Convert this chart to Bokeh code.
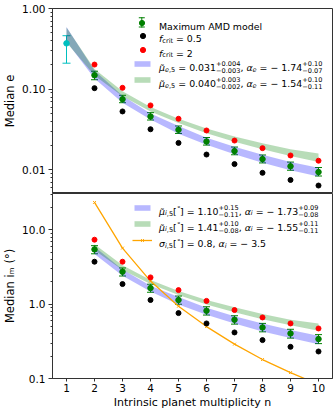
import math
from bokeh.plotting import figure
from bokeh.layouts import column
from bokeh.models import (Range1d, FixedTicker, PrintfTickFormatter, Label, Legend,
                          LegendItem, BoxAnnotation, Whisker, TeeHead, ColumnDataSource)
from bokeh.embed import file_html
from bokeh.resources import INLINE

# ---------------- data ----------------
n_all = [1, 2, 3, 4, 5, 6, 7, 8, 9, 10]
n_sys = [2, 3, 4, 5, 6, 7, 8, 9, 10]
x_ticks = [1, 2, 3, 4, 5, 6, 7, 8, 9, 10]
e_ticks = [0.01, 0.1, 1.0]
i_ticks = [0.1, 1.0, 10.0]

# observed point (n = 1)
obs_n = [1]
obs_e = [0.37]
obs_e_lo = [0.21]
obs_e_hi = [0.46]

# median eccentricity
amd_e = [0.149, 0.0752, 0.0459, 0.0314, 0.0225, 0.0171, 0.0136, 0.0111, 0.0094]
amd_e_lo = [0.131, 0.068, 0.0415, 0.0283, 0.0203, 0.0154, 0.0122, 0.0099, 0.0084]
amd_e_hi = [0.167, 0.084, 0.0512, 0.0350, 0.0252, 0.0192, 0.0153, 0.0125, 0.0107]
fcrit05_e = [0.103, 0.053, 0.0319, 0.0216, 0.0155, 0.0118, 0.0092, 0.0075, 0.0064]
fcrit2_e = [0.202, 0.104, 0.063, 0.043, 0.0308, 0.0231, 0.0186, 0.0151, 0.0130]
blue_e_lo = [0.39, 0.136, 0.068, 0.042, 0.028, 0.0205, 0.0156, 0.0123, 0.0099, 0.0083]
blue_e_hi = [0.59, 0.170, 0.083, 0.050, 0.035, 0.0250, 0.0193, 0.0154, 0.0125, 0.0106]
green_e_lo = [0.38, 0.148, 0.082, 0.053, 0.038, 0.0285, 0.0223, 0.0180, 0.0149, 0.0125]
green_e_hi = [0.58, 0.178, 0.094, 0.060, 0.043, 0.0325, 0.0260, 0.0214, 0.0180, 0.0160]

# median mutual inclination (deg)
amd_i = [5.48, 2.74, 1.65, 1.14, 0.817, 0.618, 0.487, 0.404, 0.340]
amd_i_lo = [4.78, 2.40, 1.45, 1.00, 0.715, 0.54, 0.425, 0.35, 0.295]
amd_i_hi = [6.15, 3.08, 1.86, 1.29, 0.925, 0.70, 0.552, 0.46, 0.39]
fcrit05_i = [3.74, 1.87, 1.14, 0.760, 0.551, 0.417, 0.329, 0.267, 0.231]
fcrit2_i = [7.4, 3.74, 2.30, 1.55, 1.11, 0.835, 0.664, 0.551, 0.472]
blue_i_lo = [4.75, 2.42, 1.48, 0.99, 0.72, 0.55, 0.43, 0.35, 0.29]
blue_i_hi = [5.95, 2.93, 1.77, 1.25, 0.90, 0.69, 0.55, 0.45, 0.375]
green_i_lo = [5.35, 2.90, 1.88, 1.33, 0.99, 0.78, 0.63, 0.52, 0.44]
green_i_hi = [6.45, 3.35, 2.12, 1.51, 1.14, 0.91, 0.74, 0.62, 0.55]
sigma_i = [23.5, 5.7, 2.05, 0.94, 0.50, 0.29, 0.18, 0.12, 0.083]

# ---------------- layout constants ----------------
FONT = "DejaVu Sans"
FRAME_LEFT, FRAME_W, FRAME_H = 50.0, 280, 185
X_LO, X_HI = 0.5, 10.5
E_LO, E_HI = 0.0051, 1.0
I_LO, I_HI = 0.1, 31.0
TOP_Y0, BOT_Y0 = 8.0, 193.0          # page y of each frame's top edge

CW = {' ': .318, '.': .318, ',': .318, '=': .838, '+': .838, '\u2212': .838, '-': .361,
      '[': .39, ']': .39, '(': .39, ')': .39, '\u2218': .5, '\u03bc': .636, '\u03b1': .659,
      '\u03c3': .633, 'a': .613, 'b': .635, 'c': .55, 'd': .635, 'e': .615, 'f': .352,
      'g': .635, 'h': .634, 'i': .278, 'l': .278, 'm': .974, 'n': .634, 'o': .612,
      'p': .635, 'r': .411, 's': .521, 't': .392, 'u': .634, 'x': .592, 'y': .592,
      'A': .684, 'D': .77, 'M': .863, 'I': .295}
for d in "0123456789":
    CW[d] = .636


def tw(s):
    return sum(CW.get(c, .6) for c in s if c != '\u0303')


class PageMap:
    """page pixel -> data coordinate, through the panel's own ranges."""
    def __init__(self, y0, ylo, yhi):
        self.y0, self.ylo, self.yhi = y0, ylo, yhi

    def x(self, px):
        return X_LO + (px - FRAME_LEFT) * (X_HI - X_LO) / FRAME_W

    def y(self, py):
        lo, hi = math.log10(self.ylo), math.log10(self.yhi)
        return 10 ** (hi - (py - self.y0) * (hi - lo) / FRAME_H)


def rich(p, m, px, py, pieces, fs):
    small = 0.7 * fs
    items = []
    cur = 0.0
    for kind, txt, it in pieces:
        if kind == 'n':
            items.append((cur, 0.0, fs, txt, it)); cur += tw(txt) * fs
        elif kind == 'b':
            items.append((cur, -0.22 * fs, small, txt, it)); cur += tw(txt) * small
        elif kind == 'p':
            items.append((cur, 0.42 * fs, small, txt, it)); cur += tw(txt) * small
        else:
            sup, sub = txt
            items.append((cur, 0.42 * fs, small, sup, it))
            items.append((cur, -0.30 * fs, small, sub, it))
            cur += max(tw(sup), tw(sub)) * small
    for a, dy, size, txt, it in items:
        lead = len(txt) - len(txt.lstrip(' '))
        a += lead * CW[' '] * size
        txt = txt.strip(' ')
        p.add_layout(Label(x=m.x(px + a), y=m.y(py - dy), x_units="data", y_units="data",
                           text=txt, text_font=FONT, text_font_size=f"{size:.2f}px",
                           text_font_style="italic" if it else "normal",
                           text_align="left", text_baseline="alphabetic", text_color="black"))


def legend_glyph(p, m, renderers, left, top, gw, gh):
    fb = m.y0 + FRAME_H
    leg = Legend(items=[LegendItem(label=" ", renderers=renderers)],
                 location=(left - FRAME_LEFT, fb - (top + gh)), padding=0, margin=0, spacing=0,
                 glyph_width=gw, glyph_height=gh, label_width=0, label_height=gh,
                 label_standoff=0, label_text_font_size="1px",
                 background_fill_alpha=0, border_line_alpha=0)
    p.add_layout(leg)


def box(p, m, l, r, t, b, color):
    p.add_layout(BoxAnnotation(left=m.x(l), right=m.x(r), top=m.y(t), bottom=m.y(b),
                               fill_color=color, fill_alpha=1, line_alpha=0))


def make_fig(yr, show_x, ylabel, top_border):
    p = figure(frame_width=FRAME_W, frame_height=FRAME_H, x_range=Range1d(X_LO, X_HI), y_range=yr,
               y_axis_type="log", output_backend="svg", toolbar_location=None,
               x_axis_location="below" if show_x else None,
               min_border_left=int(FRAME_LEFT), min_border_right=5, min_border_top=top_border,
               min_border_bottom=33 if show_x else 0)
    p.grid.visible = False
    p.outline_line_color = "#333333"
    p.outline_line_alpha = 1
    p.background_fill_color = "white"
    p.border_fill_color = "white"
    ax = p.yaxis[0]
    ax.axis_line_color = "#333333"
    ax.major_tick_line_color = "#333333"
    ax.minor_tick_line_color = "#333333"
    ax.major_tick_out = 4
    ax.major_tick_in = 0
    ax.minor_tick_out = 2
    ax.minor_tick_in = 0
    ax.major_label_standoff = 3
    ax.major_label_text_font = FONT
    ax.major_label_text_font_size = "10.5px"
    ax.major_label_text_color = "black"
    ax.axis_label = ylabel
    ax.axis_label_text_font = FONT
    ax.axis_label_text_font_size = "11.5px"
    ax.axis_label_text_font_style = "normal"
    ax.axis_label_text_color = "black"
    ax.axis_label_standoff = 2
    if show_x:
        xa = p.xaxis[0]
        xa.ticker = FixedTicker(ticks=x_ticks, minor_ticks=[])
        xa.axis_line_color = "#333333"
        xa.major_tick_line_color = "#333333"
        xa.major_tick_out = 3
        xa.major_tick_in = 0
        xa.minor_tick_out = 0
        xa.minor_tick_in = 0
        xa.major_label_standoff = 2
        xa.major_label_text_font = FONT
        xa.major_label_text_font_size = "10.5px"
        xa.major_label_text_color = "black"
        xa.axis_label = "Intrinsic planet multiplicity n"
        xa.axis_label_text_font = FONT
        xa.axis_label_text_font_size = "11px"
        xa.axis_label_text_font_style = "normal"
        xa.axis_label_text_color = "black"
        xa.axis_label_standoff = 1
    return p


def minor(lo_exp, hi_exp):
    return [m * 10.0 ** k for k in range(lo_exp, hi_exp) for m in range(2, 10)]


# ---------------- top panel ----------------
top = make_fig(Range1d(E_LO, E_HI), False, "Median e", int(TOP_Y0))
MT = PageMap(TOP_Y0, E_LO, E_HI)
top.yaxis.ticker = FixedTicker(ticks=e_ticks, minor_ticks=minor(-3, 0))
top.yaxis.formatter = PrintfTickFormatter(format="%.2f")

b_e = top.varea(x=n_all, y1=blue_e_lo, y2=blue_e_hi, fill_color="blue", fill_alpha=0.28)
g_e = top.varea(x=n_all, y1=green_e_lo, y2=green_e_hi, fill_color="green", fill_alpha=0.28)
k_e = top.scatter(n_sys, fcrit05_e, size=5, color="black")
r_e = top.scatter(n_sys, fcrit2_e, size=5, color="red")
top.add_layout(Whisker(source=ColumnDataSource(dict(x=n_sys, lo=amd_e_lo, hi=amd_e_hi)),
                       base="x", lower="lo", upper="hi", line_color="green", line_width=1,
                       upper_head=TeeHead(size=7, line_color="green", line_width=1),
                       lower_head=TeeHead(size=7, line_color="green", line_width=1)))
a_e = top.scatter(n_sys, amd_e, size=5.5, color="green")
top.add_layout(Whisker(source=ColumnDataSource(dict(x=obs_n, lo=obs_e_lo, hi=obs_e_hi)),
                       base="x", lower="lo", upper="hi", line_color="#00bfbf", line_width=1,
                       upper_head=TeeHead(size=8, line_color="#00bfbf", line_width=1),
                       lower_head=TeeHead(size=8, line_color="#00bfbf", line_width=1)))
top.scatter(obs_n, obs_e, size=5.5, color="#00bfbf")

# legend (top)
box(top, MT, 138.8, 139.8, 16.7, 27.0, "green")
box(top, MT, 136.3, 142.3, 16.7, 17.7, "green")
box(top, MT, 136.3, 142.3, 26.0, 27.0, "green")
legend_glyph(top, MT, [a_e], 133, 16, 13, 13)
legend_glyph(top, MT, [k_e], 134, 28.5, 13, 13)
legend_glyph(top, MT, [r_e], 134, 43, 13, 13)
legend_glyph(top, MT, [b_e], 130, 60, 20, 7)
legend_glyph(top, MT, [g_e], 130, 76, 20, 7)

LX = 156.5
LFS = 9.4
rich(top, MT, LX, 26.0, [('n', 'Maximum AMD model', False)], LFS)
rich(top, MT, LX, 38.4, [('n', 'f', True), ('b', 'crit', False), ('n', ' = 0.5', False)], LFS)
rich(top, MT, LX, 52.6, [('n', 'f', True), ('b', 'crit', False), ('n', ' = 2', False)], LFS)
rich(top, MT, LX, 67.3, [('n', '\u03bc\u0303', True), ('b', 'e', True), ('b', ',5', False),
                         ('n', ' = 0.031', False), ('s', ('+0.004', '\u22120.003'), False),
                         ('n', ', ', False), ('n', '\u03b1', True), ('b', 'e', True),
                         ('n', ' = \u2212 1.74', False), ('s', ('+0.10', '\u22120.07'), False)], LFS)
rich(top, MT, LX, 83.3, [('n', '\u03bc\u0303', True), ('b', 'e', True), ('b', ',5', False),
                         ('n', ' = 0.040', False), ('s', ('+0.003', '\u22120.002'), False),
                         ('n', ', ', False), ('n', '\u03b1', True), ('b', 'e', True),
                         ('n', ' = \u2212 1.54', False), ('s', ('+0.10', '\u22120.11'), False)], LFS)

# ---------------- bottom panel ----------------
bot = make_fig(Range1d(I_LO, I_HI), True, "Median i\u2098 (\u00b0)", 0)
MB = PageMap(BOT_Y0, I_LO, I_HI)
bot.yaxis.ticker = FixedTicker(ticks=i_ticks, minor_ticks=minor(-1, 2))
bot.yaxis.formatter = PrintfTickFormatter(format="%.1f")

b_i = bot.varea(x=n_sys, y1=blue_i_lo, y2=blue_i_hi, fill_color="blue", fill_alpha=0.28)
g_i = bot.varea(x=n_sys, y1=green_i_lo, y2=green_i_hi, fill_color="green", fill_alpha=0.28)
o_l = bot.line(n_sys, sigma_i, line_color="#ffa500", line_width=1.3)
o_m = bot.scatter(n_sys, sigma_i, marker="x", size=4, line_color="#ffa500", line_width=1)
bot.scatter(n_sys, fcrit05_i, size=5, color="black")
bot.scatter(n_sys, fcrit2_i, size=5, color="red")
bot.add_layout(Whisker(source=ColumnDataSource(dict(x=n_sys, lo=amd_i_lo, hi=amd_i_hi)),
                       base="x", lower="lo", upper="hi", line_color="green", line_width=1,
                       upper_head=TeeHead(size=7, line_color="green", line_width=1),
                       lower_head=TeeHead(size=7, line_color="green", line_width=1)))
bot.scatter(n_sys, amd_i, size=5.5, color="green")

legend_glyph(bot, MB, [b_i], 130, 204, 20, 7)
legend_glyph(bot, MB, [g_i], 130, 220, 20, 7)
legend_glyph(bot, MB, [o_l, o_m], 130, 235, 20, 10)

rich(bot, MB, LX, 210.8, [('n', '\u03bc\u0303', True), ('b', 'i', True), ('b', ',5', False),
                          ('n', '[', False), ('p', '\u2218', False), ('n', ']', False),
                          ('n', ' = 1.10', False), ('s', ('+0.15', '\u22120.11'), False),
                          ('n', ', ', False), ('n', '\u03b1', True), ('b', 'i', True),
                          ('n', ' = \u2212 1.73', False), ('s', ('+0.09', '\u22120.08'), False)], LFS)
rich(bot, MB, LX, 226.8, [('n', '\u03bc\u0303', True), ('b', 'i', True), ('b', ',5', False),
                          ('n', '[', False), ('p', '\u2218', False), ('n', ']', False),
                          ('n', ' = 1.41', False), ('s', ('+0.10', '\u22120.08'), False),
                          ('n', ', ', False), ('n', '\u03b1', True), ('b', 'i', True),
                          ('n', ' = \u2212 1.55', False), ('s', ('+0.11', '\u22120.11'), False)], LFS)
rich(bot, MB, LX, 243.3, [('n', '\u03c3', True), ('b', 'i', True), ('b', ',5', False),
                          ('n', '[', False), ('p', '\u2218', False), ('n', ']', False),
                          ('n', ' = 0.8, ', False), ('n', '\u03b1', True), ('b', 'i', True),
                          ('n', ' = \u2212 3.5', False)], LFS)

layout = column(top, bot, spacing=0)
open("out.html", "w").write(file_html(layout, INLINE))
